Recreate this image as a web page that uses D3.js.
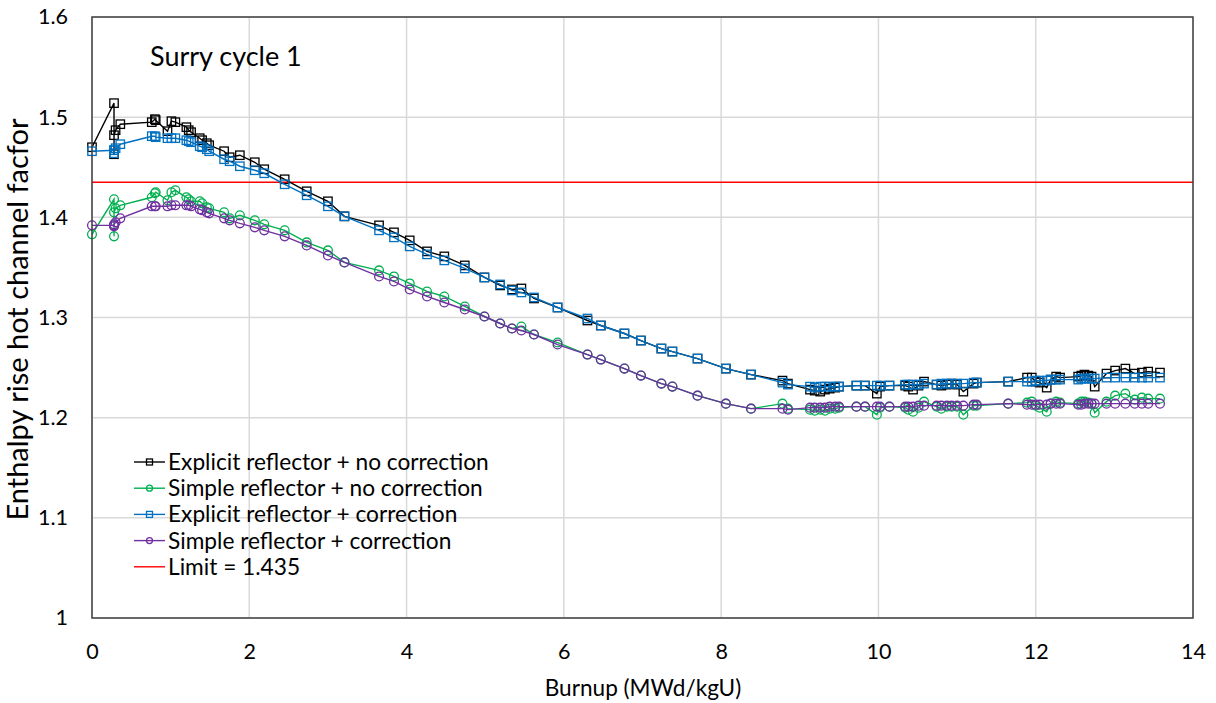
<!DOCTYPE html>
<html><head><meta charset="utf-8">
<script src="https://cdn.jsdelivr.net/npm/d3@7"></script>
<style>
html,body{margin:0;padding:0;background:#fff;}
svg text{font-family:Lato,"Open Sans",sans-serif;fill:#000;}
</style></head>
<body><svg id="c" width="1216" height="703"></svg>
<script>
const burnup = [0.00,0.28,0.28,0.28,0.30,0.36,0.76,0.80,0.81,0.96,1.01,1.06,1.20,1.23,1.26,1.37,1.40,1.46,1.49,1.68,1.75,1.88,2.07,2.19,2.45,2.73,3.00,3.21,3.65,3.84,4.04,4.26,4.48,4.74,4.99,5.19,5.34,5.46,5.62,5.92,6.30,6.47,6.77,6.98,7.24,7.38,7.70,8.06,8.38,8.78,8.85,9.13,9.19,9.26,9.32,9.38,9.45,9.50,9.72,9.83,9.98,10.02,10.14,10.34,10.38,10.44,10.51,10.58,10.74,10.80,10.87,10.93,11.00,11.08,11.21,11.25,11.65,11.89,11.95,12.00,12.05,12.14,12.19,12.26,12.31,12.54,12.58,12.62,12.67,12.71,12.75,12.90,13.01,13.14,13.26,13.35,13.43,13.58];
const explicitNoCorr = [1.470,1.514,1.463,1.482,1.487,1.493,1.495,1.498,1.497,1.486,1.496,1.495,1.490,1.487,1.485,1.479,1.477,1.474,1.472,1.466,1.460,1.462,1.455,1.448,1.438,1.426,1.416,1.401,1.392,1.385,1.377,1.366,1.361,1.352,1.340,1.332,1.328,1.329,1.319,1.310,1.297,1.292,1.284,1.277,1.269,1.266,1.259,1.249,1.243,1.237,1.234,1.228,1.227,1.226,1.228,1.229,1.230,1.231,1.232,1.232,1.224,1.231,1.232,1.232,1.231,1.228,1.232,1.236,1.233,1.232,1.233,1.234,1.233,1.226,1.234,1.235,1.236,1.240,1.240,1.236,1.235,1.230,1.238,1.241,1.240,1.241,1.242,1.243,1.242,1.241,1.231,1.244,1.247,1.249,1.244,1.245,1.246,1.245];
const simpleNoCorr = [1.383,1.418,1.381,1.405,1.409,1.412,1.420,1.424,1.425,1.417,1.425,1.427,1.420,1.418,1.416,1.416,1.414,1.410,1.409,1.405,1.399,1.402,1.397,1.393,1.387,1.375,1.367,1.355,1.347,1.341,1.334,1.326,1.321,1.311,1.301,1.294,1.289,1.291,1.283,1.275,1.263,1.258,1.249,1.242,1.234,1.231,1.222,1.214,1.209,1.214,1.209,1.208,1.207,1.208,1.207,1.209,1.209,1.210,1.211,1.211,1.203,1.210,1.211,1.210,1.208,1.206,1.210,1.216,1.211,1.209,1.211,1.211,1.211,1.203,1.212,1.212,1.214,1.215,1.216,1.212,1.210,1.206,1.214,1.216,1.215,1.214,1.216,1.216,1.215,1.214,1.205,1.216,1.222,1.224,1.218,1.220,1.219,1.219];
const explicitCorr = [1.466,1.467,1.464,1.467,1.469,1.473,1.481,1.481,1.480,1.479,1.479,1.479,1.477,1.476,1.475,1.471,1.470,1.468,1.466,1.458,1.456,1.451,1.447,1.444,1.433,1.422,1.411,1.401,1.387,1.380,1.371,1.363,1.357,1.349,1.340,1.333,1.327,1.325,1.320,1.310,1.299,1.292,1.284,1.277,1.269,1.266,1.259,1.249,1.243,1.235,1.233,1.231,1.230,1.231,1.231,1.231,1.231,1.231,1.232,1.232,1.232,1.232,1.232,1.233,1.233,1.233,1.233,1.234,1.233,1.234,1.234,1.234,1.234,1.234,1.235,1.235,1.236,1.236,1.236,1.237,1.237,1.237,1.238,1.238,1.238,1.238,1.239,1.239,1.239,1.239,1.239,1.240,1.240,1.240,1.240,1.240,1.240,1.240];
const simpleCorr = [1.392,1.392,1.391,1.393,1.395,1.399,1.411,1.411,1.411,1.411,1.412,1.412,1.412,1.412,1.411,1.408,1.407,1.405,1.404,1.399,1.397,1.394,1.390,1.387,1.381,1.372,1.362,1.355,1.341,1.336,1.328,1.321,1.315,1.308,1.301,1.294,1.289,1.287,1.283,1.273,1.263,1.258,1.249,1.242,1.234,1.231,1.222,1.214,1.209,1.209,1.208,1.210,1.210,1.210,1.210,1.211,1.211,1.211,1.211,1.211,1.211,1.211,1.211,1.211,1.211,1.211,1.212,1.212,1.212,1.212,1.212,1.212,1.212,1.212,1.213,1.213,1.214,1.213,1.213,1.213,1.213,1.213,1.214,1.214,1.214,1.213,1.213,1.214,1.214,1.214,1.214,1.214,1.214,1.214,1.214,1.214,1.214,1.214];
const limitValue = 1.435;
const seriesNames = ["Explicit reflector + no correction","Simple reflector + no correction","Explicit reflector + correction","Simple reflector + correction"];
const limitName = "Limit = 1.435";
const xTicks = [0,2,4,6,8,10,12,14];
const yTicks = [1,1.1,1.2,1.3,1.4,1.5,1.6];
const chartTitle = "Surry cycle 1";
const xTitle = "Burnup (MWd/kgU)";
const yTitle = "Enthalpy rise hot channel facfor";

const series = [
  {name: seriesNames[0], values: explicitNoCorr, color: "#000000", marker: "square"},
  {name: seriesNames[1], values: simpleNoCorr, color: "#00B050", marker: "circle"},
  {name: seriesNames[2], values: explicitCorr, color: "#0070C0", marker: "square"},
  {name: seriesNames[3], values: simpleCorr, color: "#7030A0", marker: "circle"}
];

const svg = d3.select("#c");
const L = 92, R = 1193, T = 17, B = 618;
const x = d3.scaleLinear().domain([0,14]).range([L,R]);
const y = d3.scaleLinear().domain([1,1.6]).range([B,T]);

// grid
const g = svg.append("g");
g.selectAll(".vg").data(xTicks).join("line")
  .attr("x1",d=>x(d)).attr("x2",d=>x(d)).attr("y1",T).attr("y2",B)
  .attr("stroke","#d9d9d9").attr("stroke-width",1.5);
g.selectAll(".hg").data(yTicks).join("line")
  .attr("x1",L).attr("x2",R).attr("y1",d=>y(d)).attr("y2",d=>y(d))
  .attr("stroke","#d9d9d9").attr("stroke-width",1.5);

// axes labels via d3 axes
const xAxis = d3.axisBottom(x).tickValues(xTicks).tickSize(0).tickPadding(0).tickFormat(d3.format("d"));
const xa = svg.append("g").attr("transform",`translate(0,${B})`).call(xAxis);
xa.select(".domain").remove();
xa.selectAll("text").attr("font-size",21.5).attr("dy",null).attr("y",41).attr("font-family","Lato");

const yAxis = d3.axisLeft(y).tickValues(yTicks).tickSize(0).tickPadding(24).tickFormat(d=>d===1?"1":d3.format(".1f")(d));
const ya = svg.append("g").attr("transform",`translate(${L},0)`).call(yAxis);
ya.select(".domain").remove();
ya.selectAll("text").attr("font-size",21.5).attr("font-family","Lato");

// limit line
svg.append("line").attr("x1",L).attr("x2",R).attr("y1",y(limitValue)).attr("y2",y(limitValue))
  .attr("stroke","#FF0000").attr("stroke-width",1.5);

// series
const line = d3.line().x(d=>x(d[0])).y(d=>y(d[1]));
function drawMarker(sel, type, color, cx, cy, s){
  if(type==="square"){
    sel.append("rect").attr("x",cx-s).attr("y",cy-s).attr("width",2*s).attr("height",2*s)
      .attr("fill","none").attr("stroke",color).attr("stroke-width",1.3);
  } else {
    sel.append("circle").attr("cx",cx).attr("cy",cy).attr("r",s)
      .attr("fill","none").attr("stroke",color).attr("stroke-width",1.3);
  }
}
series.forEach(s=>{
  const pts = burnup.map((b,i)=>[b,s.values[i]]);
  const sg = svg.append("g");
  sg.append("path").datum(pts).attr("d",line).attr("fill","none").attr("stroke",s.color).attr("stroke-width",1.4);
  pts.forEach(p=>drawMarker(sg, s.marker, s.color, x(p[0]), y(p[1]), s.marker==="square"?4.2:4.4));
});

// plot border
svg.append("rect").attr("x",L).attr("y",T).attr("width",R-L).attr("height",B-T)
  .attr("fill","none").attr("stroke","#404040").attr("stroke-width",1.5);

// title inside
svg.append("text").attr("x",150).attr("y",66).attr("font-size",27).text(chartTitle);

// axis titles
svg.append("text").attr("x",643).attr("y",696).attr("text-anchor","middle").attr("font-size",22.6).text(xTitle);
svg.append("text").attr("transform",`translate(28,${(T+B)/2 + 2}) rotate(-90)`).attr("text-anchor","middle").attr("font-size",29)
  .text(yTitle);

// legend
const lg = svg.append("g");
const legendItems = series.concat([{name: limitName, color:"#FF0000", marker:null}]);
legendItems.forEach((s,i)=>{
  const ly = 462 + i*26.2;
  lg.append("line").attr("x1",134).attr("x2",165).attr("y1",ly).attr("y2",ly).attr("stroke",s.color).attr("stroke-width",1.4);
  if(s.marker) drawMarker(lg, s.marker, s.color, 149.5, ly, 3);
  lg.append("text").attr("x",168).attr("y",ly+8).attr("font-size",22.7).text(s.name);
});
</script></body></html>
